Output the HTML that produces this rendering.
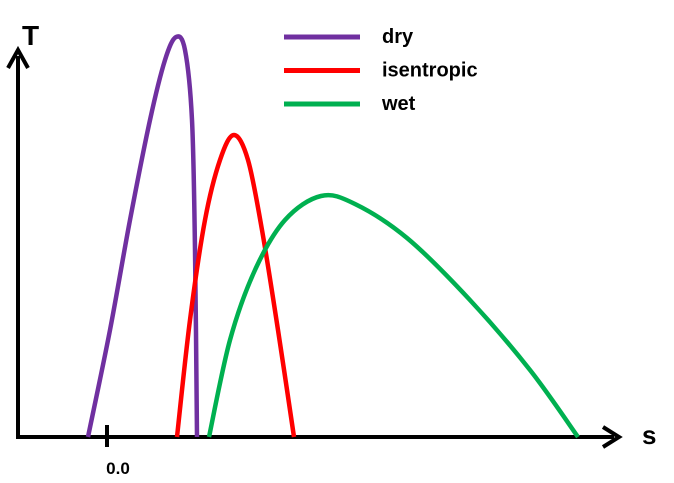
<!DOCTYPE html>
<html><head><meta charset="utf-8"><style>
html,body{margin:0;padding:0;background:#fff;width:674px;height:483px;overflow:hidden}
svg{display:block}
text{font-family:"Liberation Sans",sans-serif;font-weight:bold;fill:#000}
</style></head><body>
<svg id="chart" width="674" height="483"></svg>
<script>
const seriesNames=["dry","isentropic","wet"];
const seriesColors=["#7030a0","#ff0000","#00b050"];
const dryS=[-0.19,0.03,0.23,0.43,0.58,0.69,0.78,0.85,0.88,0.90];
const dryT=[0,1.07,2.17,3.17,3.77,4.0,3.87,3.17,1.87,0];
const isenS=[0.70,0.83,0.98,1.13,1.27,1.41,1.55,1.71,1.87];
const isenT=[0,1.17,2.17,2.77,3.02,2.77,2.07,1.07,0];
const wetS=[1.02,1.23,1.48,1.78,2.14,2.48,3.00,3.62,4.23,4.71];
const wetT=[0,0.97,1.67,2.17,2.41,2.33,1.99,1.38,0.67,0];
const xTicks=[0.0];
const xTickLabels=["0.0"];

const svg=document.getElementById('chart');
const NS="http://www.w3.org/2000/svg";
const xScale=v=>107+v*100;
const yScale=v=>437-v*100;
function mk(tag,attrs,parent){const e=document.createElementNS(NS,tag);for(const k in attrs)e.setAttribute(k,attrs[k]);(parent||svg).appendChild(e);return e;}

const yAxis=mk('line',{x1:18,y1:439,x2:18,y2:56,stroke:'#000','stroke-width':4});


const yArrow=mk('path',{d:'M8 68 L18 50 L28 68',fill:'none',stroke:'#000','stroke-width':4,'stroke-linejoin':'miter'});


const xAxis=mk('line',{x1:16,y1:437,x2:614,y2:437,stroke:'#000','stroke-width':4});


const xArrow=mk('path',{d:'M603 427 L619 437 L603 447',fill:'none',stroke:'#000','stroke-width':4});


const tl=mk('text',{x:22,y:45,'font-size':28});tl.textContent='T';


const sl=mk('text',{x:642,y:444,'font-size':26});sl.textContent='s';


xTicks.forEach((t,i)=>{
  const tk=mk('line',{x1:xScale(t),y1:425,x2:xScale(t),y2:447,stroke:'#000','stroke-width':4});
  
  
  const lb=mk('text',{x:xScale(t)+11,y:474,'font-size':17,'text-anchor':'middle'});lb.textContent=xTickLabels[i];
  
  
});

function smooth(pts){
  let d='M'+pts[0][0]+' '+pts[0][1];
  for(let i=0;i<pts.length-1;i++){
    const p0=pts[i-1]||pts[i],p1=pts[i],p2=pts[i+1],p3=pts[i+2]||p2;
    const c1=[p1[0]+(p2[0]-p0[0])/6,p1[1]+(p2[1]-p0[1])/6];
    const c2=[p2[0]-(p3[0]-p1[0])/6,p2[1]-(p3[1]-p1[1])/6];
    d+=' C'+c1[0]+' '+c1[1]+' '+c2[0]+' '+c2[1]+' '+p2[0]+' '+p2[1];
  }
  return d;
}
const data=[[dryS,dryT],[isenS,isenT],[wetS,wetT]];
data.forEach((sd,i)=>{
  const pts=sd[0].map((s,j)=>[xScale(s),yScale(sd[1][j])]);
  const p=mk('path',{d:smooth(pts),fill:'none',stroke:seriesColors[i],'stroke-width':4.5,'stroke-linejoin':'round'});
  
  
});
seriesNames.forEach((n,i)=>{
  const y=37+i*33.5;
  const g=mk('g',{});
  
  
  mk('line',{x1:284,y1:y,x2:360,y2:y,stroke:seriesColors[i],'stroke-width':5},g);
  const t=mk('text',{x:382,y:y+6,'font-size':20},g);t.textContent=n;
});
</script>
</body></html>
